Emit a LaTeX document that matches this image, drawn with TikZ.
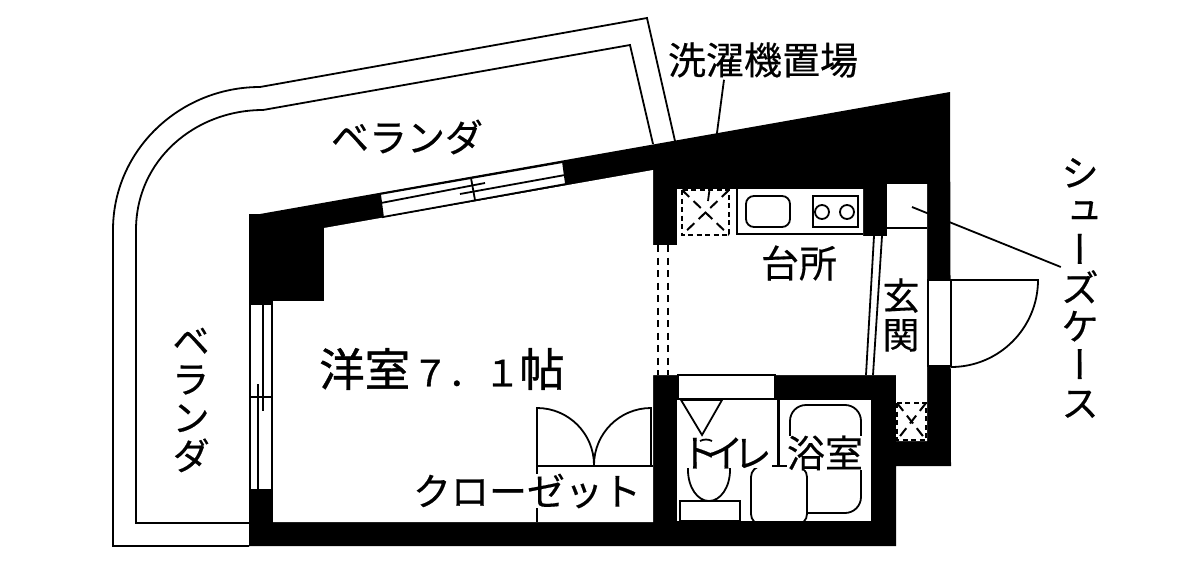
\documentclass[tikz,border=0pt]{standalone}
\usepackage{fontspec}
\newfontfamily\jp[FakeBold=0.4]{Noto Sans CJK JP}
\newfontfamily\jpb[FakeBold=0.9]{Noto Sans CJK JP}
\newfontfamily\jpv[RawFeature={+vert},FakeBold=0.4]{Noto Sans CJK JP}
\usetikzlibrary{positioning}
\tikzset{
  planline/.style={line width=1.8pt},
  dashline/.style={line width=2pt,dash pattern=on 5pt off 3.5pt},
  crossline/.style={line width=2pt,dash pattern=on 10pt off 6pt},
  raildash/.style={line width=2pt,dash pattern=on 7pt off 5.5pt},
  roomlabel/.style={inner sep=0pt,font=\jp\fontsize{38}{38}\selectfont},
  roomlabelbg/.style={roomlabel,fill=white},
  vertlabel/.style={inner sep=0pt,align=center,font=\jpv\fontsize{38}{38.4}\selectfont}
}

\begin{document}
\begin{tikzpicture}[x=1pt,y=-1pt]
\useasboundingbox (0,0) rectangle (1200,570);
\fill[white] (0,0) rectangle (1200,570);
% veranda
\draw[planline] (249,546) -- (113,546) -- (113,230) .. controls (113,150) and (180,87) .. (260,87) -- (647,18) -- (675,141);
\draw[planline] (249,523) -- (136,523) -- (136,230) .. controls (136,160) and (195,110) .. (263,110) -- (630,45) -- (653,144);
% walls and rooms
\fill (249,214) -- (260,214) -- (950,92) -- (951,466) -- (896,466) -- (896,546) -- (249,546) -- cycle;
\fill[white] (324,228) -- (653,170) -- (653,245) -- (677,245) -- (677,189) -- (863,189) -- (863,236) -- (887,236) -- (887,184) -- (927,184) -- (927,441) -- (896,441) -- (896,375) -- (653,375) -- (653,522) -- (273,522) -- (273,301) -- (324,301) -- cycle;
\fill[white] (677,400) rectangle (778,521);
\fill[white] (780,400) rectangle (871,521);
% windows
\draw[planline,fill=white] (380,194) -- (563,162) -- (566,184) -- (383,217) -- cycle;
\draw[planline] (381,203) -- (485,183);
\draw[planline] (460,194) -- (565,175);
\draw[planline] (471,178) -- (475,200);
\draw[planline,fill=white] (250,304) rectangle (272,490);
\draw[planline] (263,304) -- (263,411);
\draw[planline] (258,384) -- (258,490);
\draw[planline] (250,397) -- (272,397);
% kitchen
\draw[planline] (737,189) -- (737,234) -- (863,234);
\draw[planline,rounded corners=8pt] (746,196) rectangle (790,227);
\draw[planline] (813,196) rectangle (858,227);
\draw[planline] (822,212) circle (7);
\draw[planline] (847,212) circle (7);
\draw[dashline] (682,190) rectangle (729,235);
\draw[crossline] (682,190) -- (729,235);
\draw[crossline] (729,190) -- (682,235);
\draw[raildash] (658,245) -- (658,375);
\draw[raildash] (668,245) -- (668,375);
% entrance
\draw[planline] (887,228) -- (927,228);
\draw[planline] (874,236) -- (866,375);
\draw[planline] (882,236) -- (873,375);
\draw[planline,fill=white] (928,280) rectangle (951,366);
\draw[planline] (951,280) -- (1038,280) arc (0:90:87);
\draw[dashline] (897,403) rectangle (926,440);
\draw[crossline] (897,403) -- (926,440);
\draw[crossline] (926,403) -- (897,440);
% closet
\draw[planline] (537,466) -- (537,408) arc (-90:0:57);
\draw[planline] (651,466) -- (651,408) arc (-90:-180:57);
\draw[planline] (537,466) -- (653,466);
\draw[planline] (537,466) -- (537,522);
% toilet and bath
\draw[planline,fill=white] (678,375) rectangle (775,399);
\draw[planline] (681,400) -- (722,400) -- (702,435) -- cycle;
\draw[planline] (709,470) ellipse (21 and 31);
\draw[planline,fill=white] (680,501) rectangle (740,521);
\draw[planline] (778,400) -- (778,466);
\draw[planline,rounded corners=16pt] (790,405) rectangle (861,513);
\draw[planline,fill=white,rounded corners=11pt] (751,466) rectangle (807,525);
\fill (740,521) rectangle (820,530);
% labels
\node[roomlabel] (sentaku) at (763,60) {洗濯機置場};
\node[roomlabel] (verandatop) at (407,137) {ベランダ};
\node[vertlabel] (verandaleft) at (191,400) {ベ\\ラ\\ン\\ダ};
\node[roomlabel,font=\jpb\fontsize{45.5}{46}\selectfont] (yoshitsu) at (442,369) {洋室{\fontsize{36}{36}\selectfont \kern2pt ７．１\kern-1pt}帖};
\node[roomlabel] (daidokoro) at (799,263) {台所};
\node[vertlabel,font=\jp\fontsize{37}{39}\selectfont] (genkan) at (901,315) {玄\\関};
\node[vertlabel] (shoes) at (1080,288) {シ\\ュ\\ー\\ズ\\ケ\\ー\\ス};
\node[roomlabelbg] (closet) at (527,491) {クローゼット};
\node[roomlabelbg] (toilet) at (726,453) {ト\kern-13pt イ\kern-10pt レ};
\node[roomlabelbg] (bath) at (825,453) {浴室};
\draw[planline] (700,441) .. controls (704,439) and (708,439) .. (712,441);
% leaders
\coordinate (washend) at (708,201);
\coordinate (shoeend) at (912,207);
\draw[planline] (sentaku.south -| 724,0) ++(0,2) -- (washend);
\draw[planline] (shoeend) -- (shoes.west |- 0,267);
\end{tikzpicture}
\end{document}
